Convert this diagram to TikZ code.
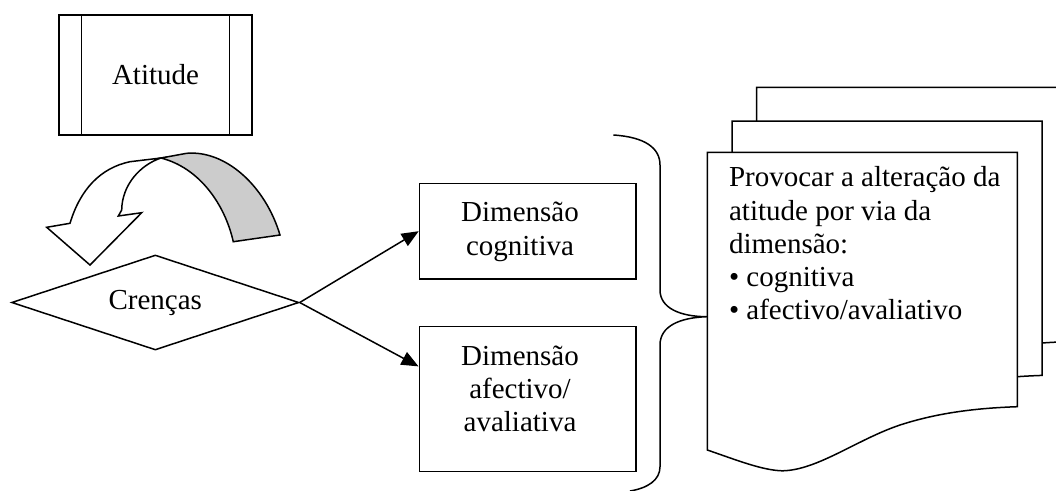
\documentclass[tikz,border=0pt]{standalone}
\usepackage{fontspec}
\setmainfont{Liberation Serif}
\usetikzlibrary{shapes.geometric,arrows.meta,calc}
\begin{document}
\begin{tikzpicture}[x=1pt,y=-1pt,
  line width=1.5pt, line join=miter,
  txt/.style={font=\fontsize{29}{33.3}\selectfont, inner sep=0pt},
  boxstyle/.style={draw, rectangle, inner sep=0pt, fill=white},
  conn/.style={-{Triangle[length=17pt,width=14pt]}},
  docshape/.pic={
    \draw[fill=white] (0,0) -- (310,0) -- (310,254.4)
      .. controls (272.7,255.7) and (232.7,259.7) .. (192.7,272.7)
      .. controls (150,287) and (110,318) .. (75,318.5)
      .. controls (55,318) and (30,308) .. (0,297.7) -- cycle;
  }
]
\useasboundingbox (0,0) rectangle (1056,490);
\clip (0,0) rectangle (1056,490);

% curved arrow (back, grey part)
\draw[fill=black!20] (161,158) -- (186.7,153.3)
  .. controls (225,150) and (265,185) .. (280,235) -- (233.3,241.7)
  .. controls (225,205) and (200,168) .. (161,158) -- cycle;
% curved arrow (front, white part)
\draw[fill=white] (46.7,227.3) -- (70,223.3)
  .. controls (80,190) and (100,168) .. (130,161.7) -- (161,158)
  .. controls (140,165) and (122,185) .. (121.7,210)
  -- (118.3,216) -- (141.7,212.7) -- (90,265) -- cycle;

% Atitude
\node[boxstyle, txt, minimum width=193pt, minimum height=120pt] (atitude) at (155.5,75) {Atitude};
\draw ([xshift=23pt]atitude.north west) -- ([xshift=23pt]atitude.south west);
\draw ([xshift=-23.5pt]atitude.north east) -- ([xshift=-23.5pt]atitude.south east);

% Crenças
\node[diamond, draw, fill=white, aspect=3.02, minimum width=287.3pt, minimum height=95pt, txt] (cren) at (155.3,302.5) {Crenças};

% Dimension boxes
\node[boxstyle, minimum width=216.5pt, minimum height=95.7pt] (cog) at (527.7,231.2) {};
\node[txt, anchor=base] (cogtext) at (520,221.7)
  {\vtop{\hbox to 0pt{\hss Dimensão\hss}\hbox to 0pt{\hss cognitiva\hss}}};
\node[boxstyle, minimum width=216.5pt, minimum height=145pt] (aff) at (527.5,399.2) {};
\node[txt, anchor=base] (afftext) at (520,365)
  {\vtop{\hbox to 0pt{\hss Dimensão\hss}\hbox to 0pt{\hss afectivo/\hss}\hbox to 0pt{\hss avaliativa\hss}}};

% connectors
\coordinate (affin) at ($(aff.north west)!0.276!(aff.south west)$);
\draw[conn] (cren.east) -- (cog.west);
\draw[conn] (cren.east) -- (affin);

% brace
\draw (613.3,135) .. controls (645,137) and (660,148) .. (660,165) -- (660,290)
  .. controls (660,308) and (680,316.7) .. (707.3,316.7)
  .. controls (680,317.5) and (660,326) .. (660,345) -- (660,466.7)
  .. controls (660,480) and (648,488) .. (630,491);

% documents
\pic at (756.7,87.3) {docshape};
\pic at (732,121) {docshape};
\pic at (707.3,152.3) {docshape};
\node[txt, anchor=base west] (doctext) at (728.3,186.7)
  {\vtop{\hbox{Provocar a alteração da}\hbox{atitude por via da}\hbox{dimensão:}\hbox{• cognitiva}\hbox{• afectivo/avaliativo}}};
\end{tikzpicture}
\end{document}
